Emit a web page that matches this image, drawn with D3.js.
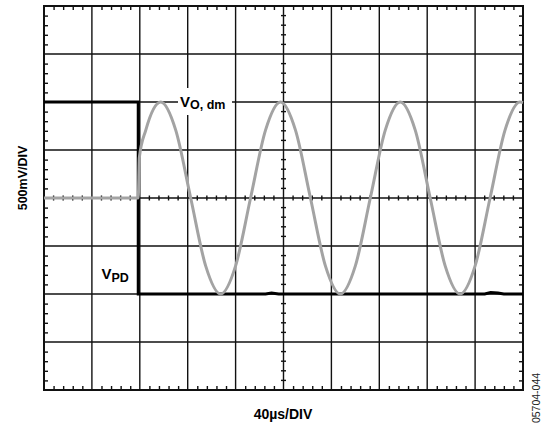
<!DOCTYPE html>
<html>
<head>
<meta charset="utf-8">
<script src="https://cdn.jsdelivr.net/npm/d3@7/dist/d3.min.js"></script>
<style>
  html, body { margin: 0; padding: 0; background: #fff; }
  svg { display: block; font-family: "Liberation Sans", Arial, Helvetica, sans-serif; }
</style>
</head>
<body>
<svg id="chart" width="548" height="427"></svg>
<script>
// ---- data (time in µs, voltage in mV; 40µs/div, 500mV/div) ----
const xDomain = [0, 400];
const yDomain = [-2000, 2000];
const xMajorStep = 40;     // µs per division
const yMajorStep = 500;    // mV per division
const xMinorStep = 8;
const yMinorStep = 100;

// V_PD (black) trace
const vpdTime  = [0, 78.7, 78.7, 185, 190, 196, 300, 368, 373, 379, 384, 400];
const vpdValue = [1000, 1000, -1000, -1000, -990, -1000, -1000, -1000, -985, -990, -1000, -1000];

// V_O,dm (gray) trace
const vodTime  = [0, 78.7, 79.6, 85, 97.5, 110, 122.5, 135, 147.5, 160, 172.5, 185, 197.5, 210, 222.5,
                  235, 247.5, 260, 272.5, 285, 297.5, 310, 322.5, 335, 347.5, 360, 372.5, 385, 397.5, 400];
const vodValue = [0, 0, 420, 707, 1000, 707, 0, -707, -1000, -707, 0, 707, 1000, 707, 0,
                  -707, -1000, -707, 0, 707, 1000, 707, 0, -707, -1000, -707, 0, 707, 1000, 995];

const xTitle = "40µs/DIV";
const yTitle = "500mV/DIV";
const figId = "05704-044";

// ---- layout ----
const L = 44, R = 523, T = 6, B = 390;
const svg = d3.select("#chart");
const x = d3.scaleLinear().domain(xDomain).range([L, R]);
const y = d3.scaleLinear().domain(yDomain).range([B, T]);

const xMajor = d3.range(xDomain[0], xDomain[1] + 0.001, xMajorStep);
const yMajor = d3.range(yDomain[0], yDomain[1] + 0.001, yMajorStep);
const xMinor = d3.range(xDomain[0], xDomain[1] + 0.001, xMinorStep).filter(v => v % xMajorStep !== 0);
const yMinor = d3.range(yDomain[0], yDomain[1] + 0.001, yMinorStep).filter(v => v % yMajorStep !== 0);

const grid = svg.append("g").attr("stroke", "#111").attr("stroke-width", 1.4);
grid.selectAll(".vg").data(xMajor.slice(1, -1)).join("line")
  .attr("x1", d => x(d)).attr("x2", d => x(d)).attr("y1", T).attr("y2", B);
grid.selectAll(".hg").data(yMajor.slice(1, -1)).join("line")
  .attr("x1", L).attr("x2", R).attr("y1", d => y(d)).attr("y2", d => y(d));

// border ticks via axes (pointing inward)
function styleAxis(g) { g.select(".domain").remove(); g.selectAll("text").remove(); g.selectAll("line").attr("stroke", "#111").attr("stroke-width", 1.4); }
svg.append("g").attr("transform", `translate(0,${B})`).call(d3.axisTop(x).tickValues(xMinor).tickSize(4).tickFormat("")).call(styleAxis);
svg.append("g").attr("transform", `translate(0,${T})`).call(d3.axisBottom(x).tickValues(xMinor).tickSize(4).tickFormat("")).call(styleAxis);
svg.append("g").attr("transform", `translate(${L},0)`).call(d3.axisRight(y).tickValues(yMinor).tickSize(4).tickFormat("")).call(styleAxis);
svg.append("g").attr("transform", `translate(${R},0)`).call(d3.axisLeft(y).tickValues(yMinor).tickSize(4).tickFormat("")).call(styleAxis);

// center cross ticks
const cx = x((xDomain[0] + xDomain[1]) / 2), cy = y((yDomain[0] + yDomain[1]) / 2);
const ct = svg.append("g").attr("stroke", "#111").attr("stroke-width", 1.4);
ct.selectAll(".cxt").data(xMinor).join("line")
  .attr("x1", d => x(d)).attr("x2", d => x(d)).attr("y1", cy - 2.5).attr("y2", cy + 2.5);
ct.selectAll(".cyt").data(yMinor).join("line")
  .attr("x1", cx - 2.5).attr("x2", cx + 2.5).attr("y1", d => y(d)).attr("y2", d => y(d));

// border
svg.append("rect").attr("x", L).attr("y", T).attr("width", R - L).attr("height", B - T)
  .attr("fill", "none").attr("stroke", "#111").attr("stroke-width", 2);

// traces
const vpd = vpdTime.map((t, i) => [t, vpdValue[i]]);
const vod = vodTime.map((t, i) => [t, vodValue[i]]);
svg.append("path").datum(vpd)
  .attr("d", d3.line().x(d => x(d[0])).y(d => y(d[1])))
  .attr("fill", "none").attr("stroke", "#000").attr("stroke-width", 3).attr("stroke-linejoin", "miter");
svg.append("path").datum(vod)
  .attr("d", d3.line().x(d => x(d[0])).y(d => y(d[1])).curve(d3.curveMonotoneX))
  .attr("fill", "none").attr("stroke", "#a3a3a3").attr("stroke-width", 3);

// labels
svg.append("rect").attr("x", 178).attr("y", 88).attr("width", 54).attr("height", 27).attr("fill", "#fff");
const l1 = svg.append("text").attr("x", 180).attr("y", 106.5).attr("font-weight", "bold").attr("fill", "#000");
l1.append("tspan").attr("font-size", 15).text("V");
l1.append("tspan").attr("font-size", 12.5).attr("dy", 2.5).text("O, dm");

const l2 = svg.append("text").attr("x", 101.5).attr("y", 278.5).attr("font-weight", "bold").attr("fill", "#000");
l2.append("tspan").attr("font-size", 15).text("V");
l2.append("tspan").attr("font-size", 12.5).attr("dy", 3).text("PD");

svg.append("text").attr("x", 283).attr("y", 419).attr("text-anchor", "middle")
  .attr("font-size", 14).attr("font-weight", "bold").text(xTitle);
svg.append("text").attr("transform", "translate(27,178) rotate(-90)").attr("text-anchor", "middle")
  .attr("font-size", 12.5).attr("font-weight", "bold").text(yTitle);
svg.append("text").attr("transform", "translate(540,398) rotate(-90)").attr("text-anchor", "middle")
  .attr("font-size", 10.5).attr("fill", "#222").text(figId);
</script>
</body>
</html>
